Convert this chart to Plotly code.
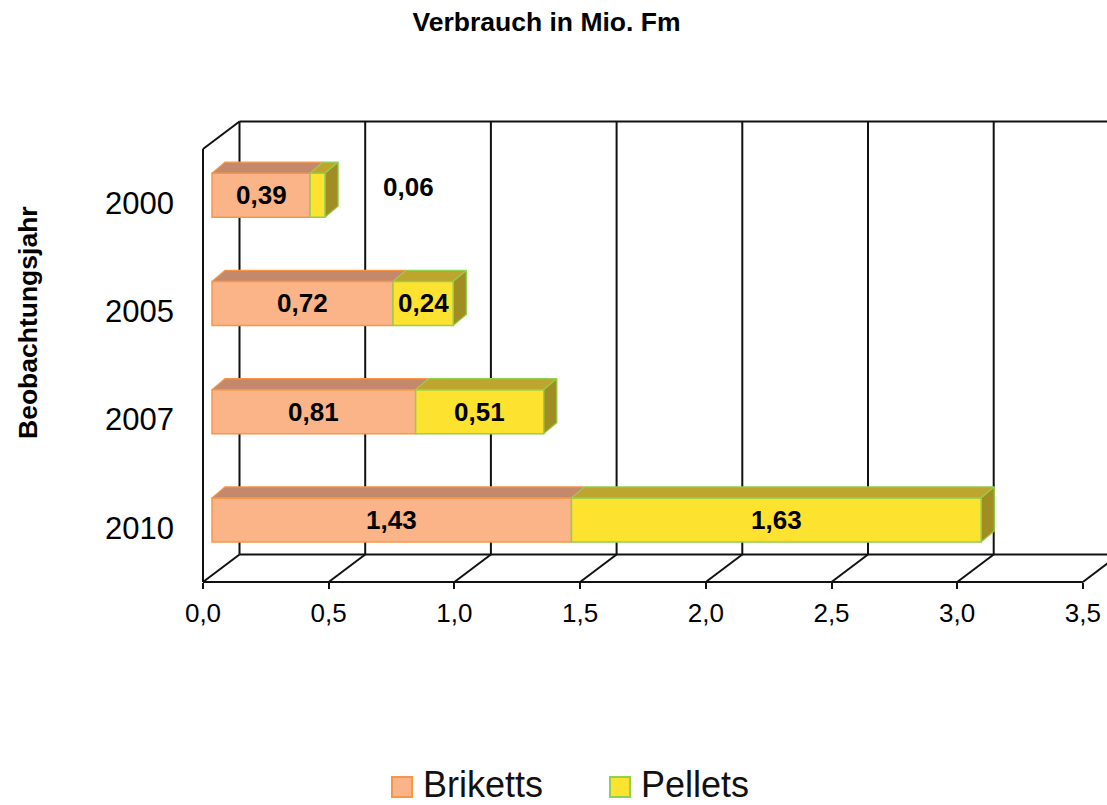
import plotly.graph_objects as go

# ---- data -------------------------------------------------------------
years = ["2000", "2005", "2007", "2010"]
briketts = [0.39, 0.72, 0.81, 1.43]
pellets = [0.06, 0.24, 0.51, 1.63]
series_names = ["Briketts", "Pellets"]
x_ticks = [0.0, 0.5, 1.0, 1.5, 2.0, 2.5, 3.0, 3.5]

# ---- styling ----------------------------------------------------------
FONT = "Liberation Sans, Arial, sans-serif"
LINE = "#111111"
BRI_FACE, BRI_EDGE, BRI_TOP = "#FBB487", "#F79646", "#C4896C"
PEL_FACE, PEL_EDGE, PEL_TOP, PEL_SIDE = "#FDE22F", "#92D050", "#BEA52D", "#A08E23"

W, H = 1107, 805
PL, PR, PT, PB = 195, 1107, 115, 592      # plot frame in pixels
X0_PX, Y0_PX = 203, 582                    # front-left-bottom corner
PX_X, PX_Y = 251.4, 108.25                 # pixels per unit / per category

x_range = [(PL - X0_PX) / PX_X, (PR - X0_PX) / PX_X]
y_range = [-0.5 - (PB - Y0_PX) / PX_Y, -0.5 + (Y0_PX - PT) / PX_Y]

WALL_DX, WALL_DY = 36.5 / PX_X, 27.5 / PX_Y    # depth of the back wall
BAR_X0 = 9 / PX_X                              # bars sit slightly behind the front edge
BAR_H = 44 / PX_Y
BAR_SHIFT = 8 / PX_Y
BOX_DX, BOX_DY = 13 / PX_X, 11 / PX_Y          # depth of each bar box


def paper_x(px):
    return (px - PL) / (PR - PL)


def paper_y(py):
    return (PB - py) / (PB - PT)


def fmt(v):
    return f"{v:.2f}".replace(".", ",")


n = len(years)
pos = [n - 1 - i for i in range(n)]   # first year on top
centers = [p + BAR_SHIFT for p in pos]

fig = go.Figure()

# front faces
bri_base = [BAR_X0] * n
pel_base = [BAR_X0 + b for b in briketts]
for vals, base, face, edge, name in [
    (briketts, bri_base, BRI_FACE, BRI_EDGE, series_names[0]),
    (pellets, pel_base, PEL_FACE, PEL_EDGE, series_names[1]),
]:
    fig.add_trace(go.Bar(
        y=pos, x=vals, base=base, orientation="h", name=name,
        width=BAR_H, offset=BAR_SHIFT - BAR_H / 2,
        marker=dict(color=face, line=dict(color=edge, width=1.5)),
        showlegend=False, hoverinfo="skip",
    ))


def top_faces(starts, vals):
    xs, ys = [], []
    for s, v, c in zip(starts, vals, centers):
        t = c + BAR_H / 2
        xs += [s, s + v, s + v + BOX_DX, s + BOX_DX, s, None]
        ys += [t, t, t + BOX_DY, t + BOX_DY, t, None]
    return xs, ys


for starts, vals, col, edge in [
    (bri_base, briketts, BRI_TOP, BRI_EDGE),
    (pel_base, pellets, PEL_TOP, PEL_EDGE),
]:
    xs, ys = top_faces(starts, vals)
    fig.add_trace(go.Scatter(
        x=xs, y=ys, mode="lines", fill="toself", fillcolor=col,
        line=dict(color=edge, width=1.2), showlegend=False, hoverinfo="skip",
    ))

# right-hand side faces of the outer segments
xs, ys = [], []
for s, v, c in zip(pel_base, pellets, centers):
    e = s + v
    lo, hi = c - BAR_H / 2, c + BAR_H / 2
    xs += [e, e + BOX_DX, e + BOX_DX, e, e, None]
    ys += [lo, lo + BOX_DY, hi + BOX_DY, hi, lo, None]
fig.add_trace(go.Scatter(
    x=xs, y=ys, mode="lines", fill="toself", fillcolor=PEL_SIDE,
    line=dict(color=PEL_EDGE, width=1.2), showlegend=False, hoverinfo="skip",
))

# value labels
annotations = []
label_font = dict(family=FONT, size=26, color="#000000")
for vals, base in [(briketts, bri_base), (pellets, pel_base)]:
    for v, s, c in zip(vals, base, centers):
        if v * PX_X < 40:
            # too narrow for the label: put it beside the box
            annotations.append(dict(
                x=s + v + 0.33, y=c + BAR_SHIFT, xref="x", yref="y",
                text=f"<b>{fmt(v)}</b>", showarrow=False, font=label_font,
            ))
        else:
            annotations.append(dict(
                x=s + v / 2, y=c, xref="x", yref="y",
                text=f"<b>{fmt(v)}</b>", showarrow=False, font=label_font,
            ))

# chart frame: side wall, back wall and floor
shapes = []


def seg(x0, y0, x1, y1):
    shapes.append(dict(type="line", xref="x", yref="y", x0=x0, y0=y0, x1=x1, y1=y1,
                       line=dict(color=LINE, width=2), layer="below"))


bottom, top = -0.5, n - 0.5
x_end = x_ticks[-1]
seg(0, bottom, 0, top)                                   # front-left edge
seg(0, top, WALL_DX, top + WALL_DY)                      # top of side wall
seg(WALL_DX, top + WALL_DY, x_end + WALL_DX, top + WALL_DY)          # back wall top
seg(WALL_DX, bottom + WALL_DY, x_end + WALL_DX, bottom + WALL_DY)    # back floor edge
seg(0, bottom, x_end, bottom)                            # front floor edge
for t in x_ticks:
    seg(t + WALL_DX, bottom + WALL_DY, t + WALL_DX, top + WALL_DY)   # wall gridline
    seg(t, bottom, t + WALL_DX, bottom + WALL_DY)                    # floor gridline

# legend
legend_items = [(series_names[0], BRI_FACE, BRI_EDGE, 392), (series_names[1], PEL_FACE, PEL_EDGE, 610)]
for name, face, edge, left in legend_items:
    shapes.append(dict(type="rect", xref="paper", yref="paper",
                       x0=paper_x(left), x1=paper_x(left + 20),
                       y0=paper_y(797), y1=paper_y(777),
                       fillcolor=face, line=dict(color=edge, width=2)))
    annotations.append(dict(
        x=paper_x(left + 29), y=paper_y(784), xref="paper", yref="paper",
        xanchor="left", yanchor="middle", text=name, showarrow=False,
        font=dict(family=FONT, size=36, color="#111111"),
    ))

# y axis title
annotations.append(dict(
    x=paper_x(28), y=paper_y(323), xref="paper", yref="paper",
    text="<b>Beobachtungsjahr</b>", textangle=-90, showarrow=False,
    xanchor="center", yanchor="middle",
    font=dict(family=FONT, size=26.5, color="#000000"),
))

axis_pos_x = (X0_PX - PL) / (PR - PL)
axis_pos_y = (PB - Y0_PX) / (PB - PT)

fig.update_layout(
    width=W, height=H,
    margin=dict(l=PL, r=W - PR, t=PT, b=H - PB),
    paper_bgcolor="white", plot_bgcolor="rgba(0,0,0,0)",
    barmode="overlay",
    separators=",.",
    font=dict(family=FONT, color="#000000"),
    title=dict(text="<b>Verbrauch in Mio. Fm</b>", x=546.5 / W, xanchor="center",
               xref="container", y=1 - 21.5 / H, yanchor="middle", yref="container",
               font=dict(family=FONT, size=26.5, color="#000000")),
    xaxis=dict(range=x_range, showgrid=False, zeroline=False, showline=False,
               tickvals=x_ticks, ticktext=[f"{t:.1f}".replace(".", ",") for t in x_ticks],
               ticks="outside", ticklen=6, tickwidth=2, tickcolor=LINE,
               anchor="free", position=axis_pos_y, ticklabelstandoff=2,
               tickfont=dict(family=FONT, size=26, color="#000000")),
    yaxis=dict(range=y_range, showgrid=False, zeroline=False, showline=False,
               tickvals=pos, ticktext=years, ticks="",
               anchor="free", position=axis_pos_x, ticklabelstandoff=29,
               tickfont=dict(family=FONT, size=31, color="#000000")),
    yaxis2=dict(range=y_range, overlaying="y", side="left", showgrid=False,
                zeroline=False, showline=False, showticklabels=False,
                tickvals=[p - 0.5 for p in range(n + 1)],
                ticks="outside", ticklen=10, tickwidth=2, tickcolor=LINE,
                anchor="free", position=axis_pos_x),
    shapes=shapes,
    annotations=annotations,
    showlegend=False,
)

fig.write_html("out.html")
